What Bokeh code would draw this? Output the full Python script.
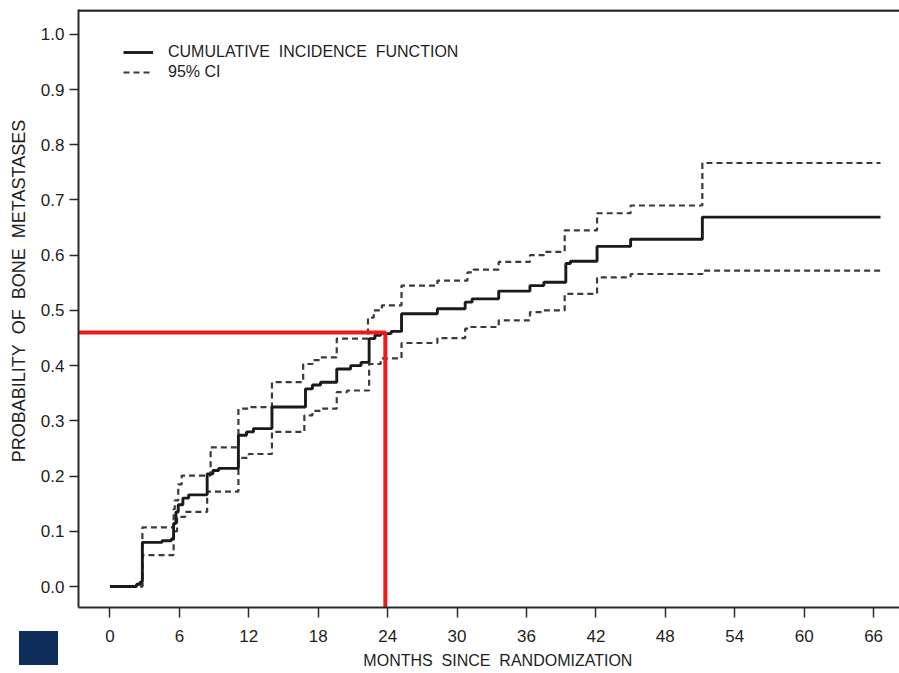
from bokeh.plotting import figure
from bokeh.models import (Range1d, FixedTicker, NumeralTickFormatter, Legend, LegendItem,
                          Span, ColumnDataSource, Div)
from bokeh.layouts import column
from bokeh.embed import file_html
from bokeh.resources import INLINE

# ---- data ----
cif_months = [0, 2.3, 2.6, 2.8, 4.5, 5.3, 5.5, 5.7, 5.9, 6.3, 6.8, 8.4, 8.9, 9.4, 11.1, 11.8, 12.4,
              14.0, 16.9, 17.5, 18.2, 19.6, 20.8, 21.7, 22.4, 22.9, 23.4, 24.3, 25.2, 28.3, 30.7,
              31.3, 33.6, 36.3, 37.5, 39.4, 39.8, 42.1, 45.0, 51.2, 66.6]
cif_values = [0.0, 0.004, 0.008, 0.080, 0.083, 0.086, 0.114, 0.135, 0.148, 0.160, 0.166, 0.204,
              0.210, 0.214, 0.274, 0.280, 0.286, 0.325, 0.358, 0.365, 0.370, 0.394, 0.400, 0.406,
              0.449, 0.455, 0.458, 0.462, 0.494, 0.503, 0.515, 0.521, 0.535, 0.545, 0.551, 0.585,
              0.589, 0.616, 0.629, 0.669, 0.669]

upper_months = [0, 2.8, 5.5, 5.6, 5.9, 6.2, 8.7, 11.1, 12.0, 14.0, 16.7, 17.5, 18.2, 19.6, 22.3,
                22.8, 23.5, 25.2, 28.3, 30.9, 31.4, 33.6, 36.3, 37.5, 39.3, 42.1, 45.0, 51.2, 66.6]
upper_values = [0.0, 0.107, 0.140, 0.156, 0.185, 0.201, 0.252, 0.322, 0.325, 0.370, 0.403, 0.410,
                0.415, 0.449, 0.487, 0.500, 0.509, 0.545, 0.554, 0.569, 0.574, 0.588, 0.600, 0.606,
                0.645, 0.676, 0.690, 0.767, 0.767]

lower_months = [0, 2.8, 5.5, 5.8, 6.5, 8.4, 11.1, 12.0, 14.0, 16.8, 17.5, 18.2, 19.6, 20.5, 22.4,
                23.4, 25.2, 28.3, 30.7, 31.2, 33.6, 36.3, 37.5, 39.3, 42.1, 45.0, 51.2, 66.6]
lower_values = [0.0, 0.057, 0.100, 0.126, 0.135, 0.172, 0.233, 0.240, 0.280, 0.310, 0.318, 0.322,
                0.352, 0.355, 0.403, 0.413, 0.441, 0.450, 0.467, 0.470, 0.482, 0.497, 0.500, 0.530,
                0.560, 0.566, 0.572, 0.572]

highlight_month = 23.8
highlight_prob = 0.46

x_ticks = [0, 6, 12, 18, 24, 30, 36, 42, 48, 54, 60, 66]
y_ticks = [0.0, 0.1, 0.2, 0.3, 0.4, 0.5, 0.6, 0.7, 0.8, 0.9, 1.0]

NB = "\u00a0"
x_title = NB * 4 + "MONTHS" + NB + " SINCE" + NB + " RANDOMIZATION"
y_title = NB * 7 + "PROBABILITY" + NB + " OF" + NB + " BONE" + NB + " METASTASES"
legend_labels = ["CUMULATIVE" + NB + " INCIDENCE" + NB + " FUNCTION", "95% CI"]

FONT = "Liberation Sans"
INK = "#1e1e1e"

x_range = Range1d(-2.72, 68.24)
y_range = Range1d(-0.038, 1.045)

p = figure(width=899, height=673, output_backend="svg", toolbar_location=None,
           x_range=x_range, y_range=y_range,
           min_border_left=78, min_border_right=0, min_border_top=9, min_border_bottom=66)
p.grid.visible = False
p.outline_line_color = None
p.background_fill_color = "white"
p.border_fill_color = "white"

# axes
for ax in (p.xaxis[0], p.yaxis[0]):
    ax.axis_line_color = "#2a2a2a"
    ax.axis_line_width = 2
    ax.major_tick_line_color = "#2a2a2a"
    ax.major_tick_line_width = 1.5
    ax.major_tick_in = 0
    ax.minor_tick_line_color = None
    ax.major_label_text_font = FONT
    ax.major_label_text_color = INK
    ax.major_label_text_font_size = "17px"
    ax.axis_label_text_font = FONT
    ax.axis_label_text_font_style = "normal"
    ax.axis_label_text_color = INK

p.xaxis.ticker = FixedTicker(ticks=x_ticks)
p.xaxis.major_tick_out = 10
p.xaxis.major_label_standoff = 12
p.xaxis.axis_label = x_title
p.xaxis.axis_label_text_font_size = "16px"
p.xaxis.axis_label_standoff = 7

p.yaxis.ticker = FixedTicker(ticks=y_ticks)
p.yaxis.formatter = NumeralTickFormatter(format="0.0")
p.yaxis.major_tick_out = 9
p.yaxis.major_label_standoff = 5
p.yaxis.axis_label = y_title
p.yaxis.axis_label_text_font_size = "18px"
p.yaxis.axis_label_standoff = 9

# top border line of the box
p.add_layout(Span(location=1.043, dimension="width", line_color="#222222", line_width=2.5))

# curves
src_c = ColumnDataSource(dict(x=cif_months, y=cif_values))
src_u = ColumnDataSource(dict(x=upper_months, y=upper_values))
src_l = ColumnDataSource(dict(x=lower_months, y=lower_values))

r_u = p.step("x", "y", source=src_u, mode="after", line_color="#3a3a3a", line_width=2.2,
             line_dash="6 4")
r_l = p.step("x", "y", source=src_l, mode="after", line_color="#3a3a3a", line_width=2.2,
             line_dash="6 4")
r_c = p.step("x", "y", source=src_c, mode="after", line_color="#1a1a1a", line_width=2.9)

# red guide lines
p.line([x_range.start, highlight_month, highlight_month],
       [highlight_prob, highlight_prob, y_range.start],
       line_color="#f01818", line_width=4)

# legend
legend = Legend(items=[LegendItem(label=legend_labels[0], renderers=[r_c]),
                       LegendItem(label=legend_labels[1], renderers=[r_u])],
                location=(45, 525), padding=0, margin=0, spacing=0,
                glyph_width=30, glyph_height=20, label_height=20, label_standoff=15,
                label_text_font=FONT, label_text_font_size="16px", label_text_color=INK,
                border_line_color=None, background_fill_alpha=0)
p.add_layout(legend)

# dark square in the lower-left corner of the slide (outside the plot frame)
square = Div(text="", width=39, height=34,
             styles={"position": "absolute", "left": "14px", "top": "626px",
                     "width": "39px", "height": "34px", "background-color": "#0f2d5a"})

layout = column(p, square)
open("out.html", "w").write(file_html(layout, INLINE))
